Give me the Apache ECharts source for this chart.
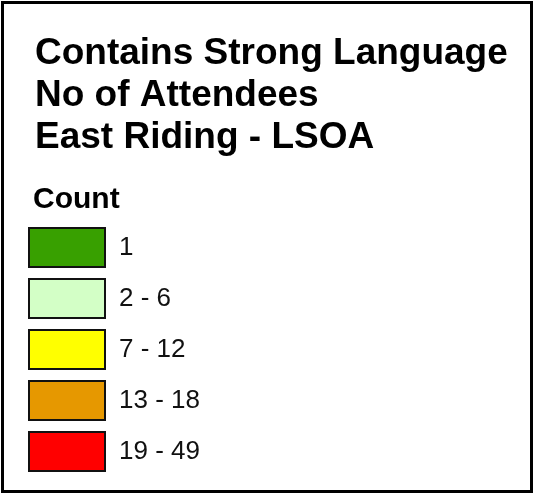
<!DOCTYPE html>
<html>
<head>
<meta charset="utf-8">
<script src="https://cdn.jsdelivr.net/npm/echarts@6/dist/echarts.min.js"></script>
<style>
  html, body { margin: 0; padding: 0; background: #fff; }
  #chart { width: 535px; height: 494px; }
</style>
</head>
<body>
<div id="chart"></div>
<script>
// legend content
const titleLines = ["Contains Strong Language", "No of Attendees", "East Riding - LSOA"];
const legendTitle = "Count";
const classLabels = ["1", "2 - 6", "7 - 12", "13 - 18", "19 - 49"];
const classColors = ["#38a000", "#d3ffc6", "#ffff00", "#e69800", "#ff0000"];

const chart = echarts.init(document.getElementById("chart"));

// one empty series per class, only there to feed the legend
const series = classLabels.map(function (label, i) {
  return {
    name: label,
    type: "bar",
    data: [],
    itemStyle: { color: classColors[i] },
  };
});

chart.setOption({
  animation: false,
  grid: { show: false },
  xAxis: { show: false, type: "category", data: [] },
  yAxis: { show: false, type: "value" },
  title: [
    {
      text: titleLines.join("\n"),
      left: 30,
      top: 28,
      textStyle: {
        fontFamily: "Liberation Sans",
        fontWeight: "bold",
        fontSize: 37,
        lineHeight: 42,
        color: "#000",
      },
    },
    {
      text: legendTitle,
      left: 28,
      top: 180,
      textStyle: {
        fontFamily: "Liberation Sans",
        fontWeight: "bold",
        fontSize: 30,
        color: "#000",
      },
    },
  ],
  legend: {
    data: classLabels,
    orient: "vertical",
    left: 28,
    top: 227,
    padding: 0,
    itemWidth: 76,
    itemHeight: 39,
    itemGap: 10,
    icon: "rect",
    selectedMode: false,
    itemStyle: { borderColor: "#111", borderWidth: 2 },
    textStyle: {
      fontFamily: "Liberation Sans",
      fontSize: 26,
      color: "#111",
      padding: [0, 0, 0, 9],
    },
  },
  graphic: [
    {
      type: "rect",
      shape: { x: 2.5, y: 2.5, width: 529, height: 489 },
      style: { fill: "none", stroke: "#000", lineWidth: 3 },
    },
  ],
  series: series,
});
</script>
</body>
</html>
